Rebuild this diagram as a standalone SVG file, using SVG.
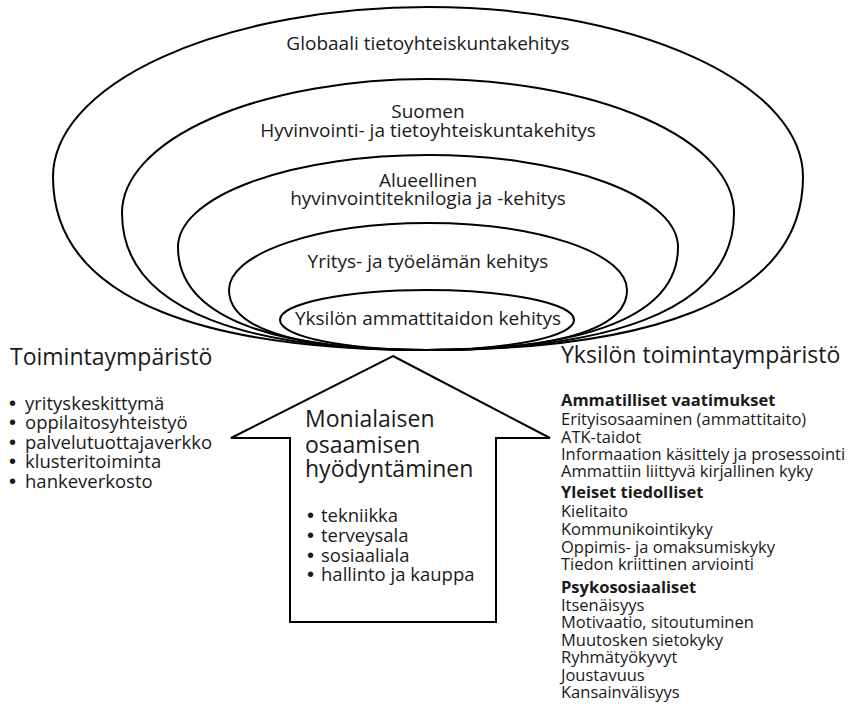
<svg xmlns="http://www.w3.org/2000/svg" width="850" height="705" viewBox="0 0 850 705">
<style>
  text { font-family: "Open Sans", "Noto Sans", "DejaVu Sans", sans-serif; fill: #1a1a1a; }
  .lvl { fill: none; stroke: #000; stroke-width: 2; }
  .lbl { font-size: 19px; text-anchor: middle; }
  .head { font-size: 23px; }
  .list { font-size: 18.5px; }
  .bul { font-family: "Liberation Sans", Arial, sans-serif; font-size: 20px; }
  .req { font-size: 16.5px; }
  .req .b { font-weight: 700; }
  .arrow { fill: #fff; stroke: #000; stroke-width: 2; stroke-linejoin: miter; }
</style>
<rect width="850" height="705" fill="#fff"/>

<g id="level-global">
  <path class="lvl" d="M53,177 A375,170 0 0 1 803,177 C803,307 634,350 427,350 C221,350 53,307 53,177 Z"/>
  <text class="lbl" x="428" y="50">Globaali tietoyhteiskuntakehitys</text>
</g>
<g id="level-finland">
  <path class="lvl" d="M122,213 A306,134 0 0 1 734,213 C734,316 596,350 427,350 C259,350 122,316 122,213 Z"/>
  <text class="lbl" x="428" y="118">Suomen</text>
  <text class="lbl" x="428" y="137">Hyvinvointi- ja tietoyhteiskuntakehitys</text>
</g>
<g id="level-regional">
  <path class="lvl" d="M178,247 A250,92 0 0 1 678,247 C678,324 565,350 427,350 C290,350 178,324 178,247 Z"/>
  <text class="lbl" x="428" y="187">Alueellinen</text>
  <text class="lbl" x="428" y="205">hyvinvointiteknilogia ja -kehitys</text>
</g>
<g id="level-company">
  <path class="lvl" d="M229,290 A199,67 0 0 1 627,290 C627,335 537,350 427,350 C318,350 229,335 229,290 Z"/>
  <text class="lbl" x="428" y="268">Yritys- ja työelämän kehitys</text>
</g>
<g id="level-individual">
  <ellipse class="lvl" cx="427" cy="320" rx="147" ry="30"/>
  <text class="lbl" x="428" y="325">Yksilön ammattitaidon kehitys</text>
</g>

<g id="connectors">
  <path id="arrow-up" class="arrow" d="M393,356 L550,438 L496,438 L496,622 L290,622 L290,438 L231,438 Z"/>
</g>

<g id="arrow-content">
  <text class="head" x="305" y="427">Monialaisen</text>
  <text class="head" x="305" y="453">osaamisen</text>
  <text class="head" x="305" y="477">hyödyntäminen</text>
  <text class="list" x="307" y="522"><tspan class="bul">•</tspan><tspan x="321">tekniikka</tspan></text>
  <text class="list" x="307" y="542"><tspan class="bul">•</tspan><tspan x="321">terveysala</tspan></text>
  <text class="list" x="307" y="562"><tspan class="bul">•</tspan><tspan x="321">sosiaaliala</tspan></text>
  <text class="list" x="307" y="581"><tspan class="bul">•</tspan><tspan x="321">hallinto ja kauppa</tspan></text>
</g>

<g id="operating-environment">
  <text class="head" x="10" y="365">Toimintaympäristö</text>
  <text class="list" x="9" y="410"><tspan class="bul">•</tspan><tspan x="25">yrityskeskittymä</tspan></text>
  <text class="list" x="9" y="429"><tspan class="bul">•</tspan><tspan x="25">oppilaitosyhteistyö</tspan></text>
  <text class="list" x="9" y="449"><tspan class="bul">•</tspan><tspan x="25">palvelutuottajaverkko</tspan></text>
  <text class="list" x="9" y="468"><tspan class="bul">•</tspan><tspan x="25">klusteritoiminta</tspan></text>
  <text class="list" x="9" y="488"><tspan class="bul">•</tspan><tspan x="25">hankeverkosto</tspan></text>
</g>

<g id="individual-environment">
  <text class="head" x="561" y="363">Yksilön toimintaympäristö</text>
  <g class="req">
    <text class="b" x="561" y="406">Ammatilliset vaatimukset</text>
    <text x="561" y="425">Erityisosaaminen (ammattitaito)</text>
    <text x="561" y="443">ATK-taidot</text>
    <text x="561" y="460">Informaation käsittely ja prosessointi</text>
    <text x="561" y="477">Ammattiin liittyvä kirjallinen kyky</text>
    <text class="b" x="561" y="498">Yleiset tiedolliset</text>
    <text x="561" y="517">Kielitaito</text>
    <text x="561" y="535">Kommunikointikyky</text>
    <text x="561" y="553">Oppimis- ja omaksumiskyky</text>
    <text x="561" y="570">Tiedon kriittinen arviointi</text>
    <text class="b" x="561" y="593">Psykososiaaliset</text>
    <text x="561" y="611">Itsenäisyys</text>
    <text x="561" y="628">Motivaatio, sitoutuminen</text>
    <text x="561" y="646">Muutosken sietokyky</text>
    <text x="561" y="663">Ryhmätyökyvyt</text>
    <text x="561" y="681">Joustavuus</text>
    <text x="561" y="698">Kansainvälisyys</text>
  </g>
</g>
</svg>
